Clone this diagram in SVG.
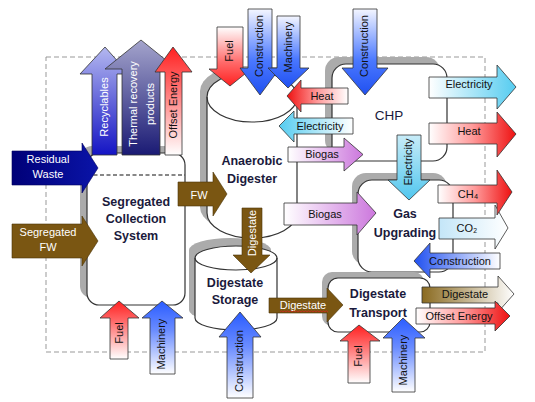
<svg xmlns="http://www.w3.org/2000/svg" width="535" height="402" viewBox="0 0 535 402">
<defs>
<style>
.ar{stroke:#333;stroke-width:0.8;stroke-linejoin:miter}
.lb{font-family:"Liberation Sans",Arial,sans-serif;font-size:11px;text-anchor:middle}
.w{fill:#fff}
.k{fill:#111}
.box{fill:#fff;stroke:#333;stroke-width:1.2}
.shd{fill:#ababab}
.ttl{font-family:"Liberation Sans",Arial,sans-serif;font-weight:bold;font-size:12.5px;fill:#1a1a3c;text-anchor:middle}
.brown{fill:#7a5612}
</style>
<linearGradient id="gRedUp" x1="0" y1="0" x2="0" y2="1"><stop offset="0" stop-color="#ff2020"/><stop offset="0.35" stop-color="#ff6a6a"/><stop offset="1" stop-color="#fff"/></linearGradient>
<linearGradient id="gBlueUp" x1="0" y1="0" x2="0" y2="1"><stop offset="0" stop-color="#2a5cff"/><stop offset="0.4" stop-color="#6a8cff"/><stop offset="1" stop-color="#fff"/></linearGradient>
<linearGradient id="gRedDown" x1="0" y1="0" x2="0" y2="1"><stop offset="0" stop-color="#fff"/><stop offset="0.6" stop-color="#ff6a6a"/><stop offset="1" stop-color="#ff2020"/></linearGradient>
<linearGradient id="gBlueDown" x1="0" y1="0" x2="0" y2="1"><stop offset="0" stop-color="#f4f6ff"/><stop offset="0.6" stop-color="#4a78ff"/><stop offset="1" stop-color="#2050f0"/></linearGradient>
<linearGradient id="gRedR" x1="0" y1="0" x2="1" y2="0"><stop offset="0" stop-color="#fff"/><stop offset="0.5" stop-color="#ff9a9a"/><stop offset="1" stop-color="#ee1111"/></linearGradient>
<linearGradient id="gRedL" x1="0" y1="0" x2="1" y2="0"><stop offset="0" stop-color="#ee1111"/><stop offset="0.5" stop-color="#ff9a9a"/><stop offset="1" stop-color="#fff"/></linearGradient>
<linearGradient id="gCyanR" x1="0" y1="0" x2="1" y2="0"><stop offset="0" stop-color="#fff"/><stop offset="1" stop-color="#55ccf0"/></linearGradient>
<linearGradient id="gCyanL" x1="0" y1="0" x2="1" y2="0"><stop offset="0" stop-color="#55ccf0"/><stop offset="1" stop-color="#fff"/></linearGradient>
<linearGradient id="gCyanDown" x1="0" y1="0" x2="0" y2="1"><stop offset="0" stop-color="#c8ecf8"/><stop offset="1" stop-color="#50c6ee"/></linearGradient>
<linearGradient id="gViolet" x1="0" y1="0" x2="1" y2="0"><stop offset="0" stop-color="#fff"/><stop offset="1" stop-color="#cc77dd"/></linearGradient>
<linearGradient id="gCO2" x1="0" y1="0" x2="1" y2="0"><stop offset="0" stop-color="#c4e6f8"/><stop offset="1" stop-color="#fff"/></linearGradient>
<linearGradient id="gBlueL" x1="0" y1="0" x2="1" y2="0"><stop offset="0" stop-color="#2050f0"/><stop offset="1" stop-color="#fff"/></linearGradient>
<linearGradient id="gBrownR" x1="0" y1="0" x2="1" y2="0"><stop offset="0" stop-color="#8a6a20"/><stop offset="1" stop-color="#fff"/></linearGradient>
<linearGradient id="gRecyc" x1="0" y1="0" x2="0" y2="1"><stop offset="0" stop-color="#b4b8f0"/><stop offset="1" stop-color="#1414c4"/></linearGradient>
<linearGradient id="gThermal" x1="0" y1="0" x2="0" y2="1"><stop offset="0" stop-color="#a4a4cc"/><stop offset="1" stop-color="#1a1a74"/></linearGradient>
<linearGradient id="gNavy" x1="0" y1="0" x2="1" y2="0"><stop offset="0" stop-color="#000078"/><stop offset="1" stop-color="#0a14a8"/></linearGradient>
</defs>

<rect width="535" height="402" fill="#fff"/>

<g id="boundary">
<rect x="46" y="57" width="439" height="295" fill="none" stroke="#999" stroke-width="1" stroke-dasharray="5,3"/>
</g>

<g id="segregated-collection-system">
<rect class="shd" x="80" y="146" width="98" height="152" rx="12"/>
<rect class="box" x="87" y="153" width="98" height="152" rx="12"/>
<line x1="87" y1="175" x2="185" y2="175" stroke="#111" stroke-width="1.2" stroke-dasharray="4,2.5"/>
<text class="ttl" x="136" y="206">Segregated</text>
<text class="ttl" x="136" y="223">Collection</text>
<text class="ttl" x="136" y="240">System</text>
</g>

<g id="anaerobic-digester">
<path class="shd" d="M200,91 A45,25 0 0 1 290,91 L290,207 A45,25 0 0 1 200,207 Z"/>
<path class="box" d="M207,97 A45,25 0 0 1 297,97 L297,213 A45,25 0 0 1 207,213 Z"/>
<path d="M207,97 A45,25 0 0 0 297,97" fill="none" stroke="#333" stroke-width="1.2"/>
<text class="ttl" x="252" y="165">Anaerobic</text>
<text class="ttl" x="252" y="183">Digester</text>
</g>

<g id="chp">
<rect class="shd" x="325" y="57" width="115" height="97" rx="14"/>
<rect class="box" x="332" y="64" width="115" height="97" rx="14"/>
<text x="389" y="120" font-family="Liberation Sans, Arial, sans-serif" font-size="13.5" fill="#1a1a3c" text-anchor="middle">CHP</text>
</g>

<g id="gas-upgrading">
<rect class="shd" x="352" y="173" width="95" height="92" rx="14"/>
<rect class="box" x="358" y="180" width="95" height="92" rx="14"/>
<text class="ttl" x="405" y="218">Gas</text>
<text class="ttl" x="405" y="237">Upgrading</text>
</g>

<g id="digestate-storage">
<path class="shd" d="M189,250 A41,12 0 0 1 271,250 L271,310 A41,12 0 0 1 189,310 Z"/>
<path class="box" d="M195,258 A41,12 0 0 1 277,258 L277,318 A41,12 0 0 1 195,318 Z"/>
<path d="M195,258 A41,12 0 0 0 277,258" fill="none" stroke="#333" stroke-width="1.2"/>
<text class="ttl" x="235" y="287">Digestate</text>
<text class="ttl" x="235" y="304">Storage</text>
</g>

<g id="digestate-transport">
<rect class="shd" x="322" y="272" width="102" height="54" rx="10"/>
<rect class="box" x="328" y="278" width="102" height="54" rx="10"/>
<text class="ttl" x="378" y="298">Digestate</text>
<text class="ttl" x="378" y="317">Transport</text>
</g>

<g id="connectors">
<!-- inputs to SCS -->
<g><polygon points="12,151 82,151 82,143 98,168 82,193 82,185 12,185" fill="url(#gNavy)" stroke="#00005a" stroke-width="0.6"/>
<text class="lb w" x="48" y="163">Residual</text><text class="lb w" x="48" y="178">Waste</text></g>
<g><polygon class="brown" points="12,224 82,224 82,216 98,241 82,266 82,258 12,258" stroke="#4a3408" stroke-width="0.6"/>
<text class="lb w" x="48" y="236">Segregated</text><text class="lb w" x="48" y="251">FW</text></g>
<!-- SCS outputs -->
<g><polygon class="ar" points="92,155 92,74 80,74 105,47 129,74 117,74 117,155" fill="url(#gRecyc)"/>
<text class="lb w" transform="translate(104,107) rotate(-90)" dy="0.35em">Recyclables</text></g>
<g><polygon class="ar" points="122,155 122,69 105,69 141,40 177,69 160,69 160,155" fill="url(#gThermal)"/>
<text class="lb w" transform="translate(133,104) rotate(-90)" dy="0.35em">Thermal recovery</text>
<text class="lb w" transform="translate(150,104) rotate(-90)" dy="0.35em">products</text></g>
<g><polygon class="ar" points="165,155 165,72 155,72 173,47 192,72 182,72 182,155" fill="url(#gRedUp)"/>
<text class="lb k" transform="translate(173,105) rotate(-90)" dy="0.35em">Offset Energy</text></g>
<g><polygon class="ar" points="110,359 110,318 100,318 119,301 139,318 128,318 128,359" fill="url(#gRedUp)"/>
<text class="lb k" transform="translate(119,333) rotate(-90)" dy="0.35em">Fuel</text></g>
<g><polygon class="ar" points="150,374 150,318 142,318 162,301 183,318 175,318 175,374" fill="url(#gBlueUp)"/>
<text class="lb k" transform="translate(161,344) rotate(-90)" dy="0.35em">Machinery</text></g>
<g><polygon class="brown" points="178,182 213,182 213,172 227,194 213,216 213,206 178,206" stroke="#4a3408" stroke-width="0.6"/>
<text class="lb w" x="199" y="199">FW</text></g>
<!-- AD inputs -->
<g><polygon class="ar" points="217,27 243,27 243,69 251,69 230,86 209,69 217,69" fill="url(#gRedDown)"/>
<text class="lb k" transform="translate(229,51) rotate(-90)" dy="0.35em">Fuel</text></g>
<g><polygon class="ar" points="248,9 272,9 272,68 280,68 260,95 240,68 248,68" fill="url(#gBlueDown)"/>
<text class="lb k" transform="translate(259,46) rotate(-90)" dy="0.35em">Construction</text></g>
<g><polygon class="ar" points="277,16 300,16 300,68 309,68 288,88 268,68 277,68" fill="url(#gBlueDown)"/>
<text class="lb k" transform="translate(288,47) rotate(-90)" dy="0.35em">Machinery</text></g>
<g><polygon class="ar" points="353,9 377,9 377,68 388,68 365,95 342,68 353,68" fill="url(#gBlueDown)"/>
<text class="lb k" transform="translate(364,46) rotate(-90)" dy="0.35em">Construction</text></g>
<!-- CHP to AD -->
<g><polygon class="ar" points="348,88 301,88 301,80 287,96 301,112 301,104 348,104" fill="url(#gRedL)"/>
<text class="lb k" x="322" y="100">Heat</text></g>
<g><polygon class="ar" points="353,118 294,118 294,111 279,126 294,142 294,134 353,134" fill="url(#gCyanL)"/>
<text class="lb k" x="320" y="130">Electricity</text></g>
<g><polygon class="ar" points="288,147 344,147 344,138 363,154.5 344,171 344,162 288,162" fill="url(#gViolet)"/>
<text class="lb k" x="322" y="158" font-size="11.5">Biogas</text></g>
<!-- CHP outputs -->
<g><polygon class="ar" points="429,77 497,77 497,65 516,87 497,109 497,98 429,98" fill="url(#gCyanR)"/>
<text class="lb k" x="469" y="88">Electricity</text></g>
<g><polygon class="ar" points="429,123 497,123 497,112 516,134 497,157 497,144 429,144" fill="url(#gRedR)"/>
<text class="lb k" x="469" y="135">Heat</text></g>
<g><polygon class="ar" points="397,135 421,135 421,180 430,180 409,200 388,180 397,180" fill="url(#gCyanDown)"/>
<text class="lb k" transform="translate(408,162) rotate(-90)" dy="0.35em">Electricity</text></g>
<!-- AD to GU -->
<g><polygon class="ar" points="284,203 357,203 357,192 376,213 357,235 357,225 284,225" fill="url(#gViolet)"/>
<text class="lb k" x="325" y="218" font-size="13.5">Biogas</text></g>
<!-- GU outputs / inputs -->
<g><polygon class="ar" points="439,218 495,218 495,205 508,228 495,249 495,239 439,239" fill="url(#gCO2)"/>
<text class="lb k" x="467" y="232">CO₂</text></g>
<g><polygon class="ar" points="438,185 497,185 497,170 512,192 497,215 497,203 438,203" fill="url(#gRedR)"/>
<text class="lb k" x="468" y="198">CH₄</text></g>
<g><polygon class="ar" points="500,253 430,253 430,243 414,261 430,278 430,269 500,269" fill="url(#gBlueL)"/>
<text class="lb k" x="460" y="265">Construction</text></g>
<!-- digestate flows -->
<g><polygon class="brown" points="242,208 262,208 262,255 270,255 251,273 233,255 242,255" stroke="#4a3408" stroke-width="0.6"/>
<text class="lb w" transform="translate(252,233) rotate(-90)" dy="0.35em">Digestate</text></g>
<g><polygon class="ar" points="227,398 227,337 219,337 240,312 261,337 253,337 253,398" fill="url(#gBlueUp)"/>
<text class="lb k" transform="translate(239,361) rotate(-90)" dy="0.35em">Construction</text></g>
<g><polygon class="brown" points="269,298 327,298 327,288 343,305 327,322 327,313 269,313" stroke="#4a3408" stroke-width="0.6"/>
<text class="lb w" x="303" y="309">Digestate</text>
<path d="M280,312 l1.5,-1.2 l1.5,1.2 l1.5,-1.2 l1.5,1.2 l1.5,-1.2 l1.5,1.2 l1.5,-1.2 l1.5,1.2 l1.5,-1.2 l1.5,1.2 l1.5,-1.2 l1.5,1.2 l1.5,-1.2 l1.5,1.2 l1.5,-1.2 l1.5,1.2 l1.5,-1.2 l1.5,1.2 l1.5,-1.2 l1.5,1.2 l1.5,-1.2 l1.5,1.2 l1.5,-1.2 l1.5,1.2 l1.5,-1.2 l1.5,1.2 l1.5,-1.2 l1.5,1.2 l1.5,-1.2 l1.5,1.2 l1.5,-1.2 l1.5,1.2" fill="none" stroke="#e02020" stroke-width="0.7"/></g>
<!-- DT -->
<g><polygon class="ar" points="348,383 348,341 340,341 359,325 380,341 370,341 370,383" fill="url(#gRedUp)"/>
<text class="lb k" transform="translate(358,356) rotate(-90)" dy="0.35em">Fuel</text></g>
<g><polygon class="ar" points="392,392 392,338 383,338 403,318 425,338 415,338 415,392" fill="url(#gBlueUp)"/>
<text class="lb k" transform="translate(403,360) rotate(-90)" dy="0.35em">Machinery</text></g>
<g><polygon class="ar" points="422,287 498,287 498,276 514,294 498,312 498,303 422,303" fill="url(#gBrownR)"/>
<text class="lb k" x="465" y="298">Digestate</text></g>
<g><polygon class="ar" points="416,308 495,308 495,301 510,316 495,331 495,324 416,324" fill="url(#gRedR)"/>
<text class="lb k" x="459" y="320">Offset Energy</text></g>
</g>
</svg>
